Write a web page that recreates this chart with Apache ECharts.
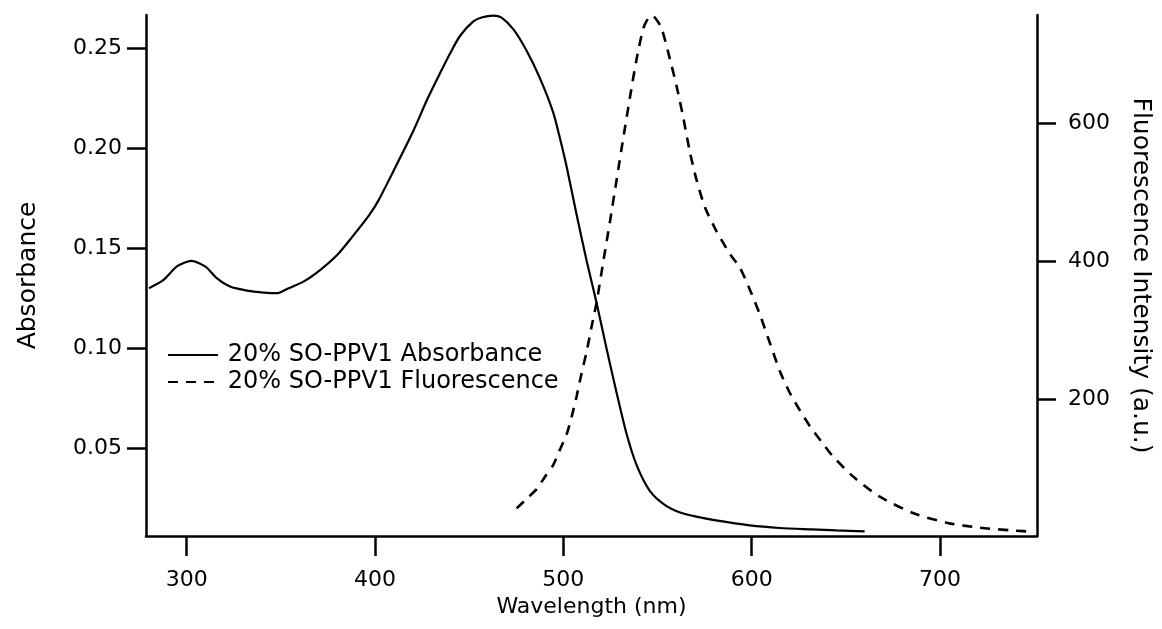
<!DOCTYPE html>
<html>
<head>
<meta charset="utf-8">
<script src="https://cdn.jsdelivr.net/npm/echarts@6/dist/echarts.min.js"></script>
<style>
  html, body { margin: 0; padding: 0; background: #fff; }
  #chart { width: 1162px; height: 629px; }
</style>
</head>
<body>
<div id="chart"></div>
<script>
// wavelength (nm) / absorbance
var absWavelength = [280, 287.5, 295, 302.5, 310, 316, 323, 332, 341, 348, 353, 362, 371, 380, 388, 397, 402, 410, 420, 428, 434.5, 439.7, 445.1, 452.2, 457, 462.8, 467, 473.5, 480.5, 487.6, 494.6, 498.2, 501.7, 507, 512.3, 517.7, 522.9, 528.3, 533.6, 538.9, 546, 554, 562, 570, 581, 599, 615, 632, 645, 660];
var absValues = [0.130, 0.134, 0.141, 0.1437, 0.1408, 0.135, 0.1308, 0.1288, 0.1278, 0.1275, 0.1295, 0.1333, 0.1392, 0.1467, 0.1558, 0.1667, 0.1742, 0.189, 0.208, 0.225, 0.2375, 0.2472, 0.2562, 0.2635, 0.2656, 0.2664, 0.2655, 0.2595, 0.2488, 0.235, 0.218, 0.205, 0.191, 0.167, 0.144, 0.1225, 0.100, 0.0776, 0.057, 0.0415, 0.0285, 0.0215, 0.0178, 0.0158, 0.0138, 0.0113, 0.010, 0.0093, 0.0088, 0.0083];

// wavelength (nm) / fluorescence intensity
var fluWavelength = [475.2, 480.5, 485.8, 490, 494.6, 498, 501.8, 504.5, 507, 509.5, 512.4, 515, 517.6, 521.2, 524.8, 528.3, 531.8, 535.4, 538.9, 542.5, 545, 546.9, 549, 552.1, 556.6, 560.2, 563.7, 567.2, 570.7, 575.2, 581, 588.5, 593.8, 599.1, 604.4, 609.8, 615, 620, 625, 631, 637, 643.3, 654, 668, 686, 704, 721, 739, 750];
var fluValues = [41, 55, 69, 86, 104, 125, 149, 175, 203, 235, 269, 305, 339, 399, 458, 518, 578, 638, 693, 738, 752, 756, 752, 738, 693, 653, 608, 558, 518, 478, 445, 410, 390, 358, 322, 280, 240, 210, 186, 160, 138, 116, 87, 58, 34, 20, 13, 9, 7];

var xTicks = [300, 400, 500, 600, 700];
var absTicks = [0.05, 0.10, 0.15, 0.20, 0.25];
var fluTicks = [200, 400, 600];

function pairs(xs, ys) {
  var out = [];
  for (var i = 0; i < xs.length; i++) {
    out.push([xs[i], ys[i]]);
  }
  return out;
}

var font = "DejaVu Sans";
var axisLine = { show: true, lineStyle: { color: "#000", width: 2.5 } };
var tickStyle = { color: "#000", width: 2.5 };

var chart = echarts.init(document.getElementById("chart"));
chart.setOption({
  animation: false,
  backgroundColor: "#fff",
  textStyle: { fontFamily: font, color: "#000" },
  grid: { left: 146, top: 15, width: 891, height: 521 },
  legend: {
    left: 162,
    top: 338,
    orient: "vertical",
    itemWidth: 50,
    itemHeight: 14,
    itemGap: 3,
    itemStyle: { opacity: 0 },
    formatter: function (name) { return "\u2009" + name; },
    textStyle: { fontSize: 24, color: "#000", fontFamily: font },
    data: ["20% SO-PPV1 Absorbance", "20% SO-PPV1 Fluorescence"],
  },
  xAxis: {
    type: "value",
    min: 278.4,
    max: 751.5,
    name: "Wavelength (nm)",
    nameLocation: "middle",
    nameGap: 60,
    nameTextStyle: { fontSize: 22, color: "#000", fontFamily: font },
    axisLine: axisLine,
    axisTick: { show: true, length: 20, lineStyle: tickStyle, customValues: xTicks },
    axisLabel: { fontSize: 22, color: "#000", margin: 33, customValues: xTicks },
    splitLine: { show: false },
  },
  yAxis: [
    {
      type: "value",
      position: "left",
      min: 0.006,
      max: 0.2667,
      name: "Absorbance",
      nameLocation: "middle",
      nameRotate: 90,
      nameGap: 105,
      nameTextStyle: { fontSize: 25, color: "#000", fontFamily: font },
      axisLine: axisLine,
      axisTick: { show: true, length: 19, lineStyle: tickStyle, customValues: absTicks },
      axisLabel: {
        fontSize: 22, color: "#000", margin: 24, customValues: absTicks,
        formatter: function (v) { return v.toFixed(2); },
      },
      splitLine: { show: false },
    },
    {
      type: "value",
      position: "right",
      min: 1,
      max: 757,
      name: "Fluorescence Intensity (a.u.)",
      nameLocation: "middle",
      nameRotate: -90,
      nameGap: 91,
      nameTextStyle: { fontSize: 25, color: "#000", fontFamily: font },
      axisLine: axisLine,
      axisTick: { show: true, length: 19, lineStyle: tickStyle, customValues: fluTicks },
      axisLabel: { fontSize: 22, color: "#000", margin: 31, customValues: fluTicks },
      splitLine: { show: false },
    },
  ],
  series: [
    {
      name: "20% SO-PPV1 Absorbance",
      type: "line",
      yAxisIndex: 0,
      data: pairs(absWavelength, absValues),
      showSymbol: false,
      symbol: "none",
      smooth: 0.25,
      lineStyle: { color: "#000", width: 2.2 },
      itemStyle: { color: "#000" },
    },
    {
      name: "20% SO-PPV1 Fluorescence",
      type: "line",
      yAxisIndex: 1,
      data: pairs(fluWavelength, fluValues),
      showSymbol: false,
      symbol: "none",
      smooth: 0.25,
      lineStyle: { color: "#000", width: 2.6, type: [10, 8] },
      itemStyle: { color: "#000" },
    },
  ],
});
</script>
</body>
</html>
